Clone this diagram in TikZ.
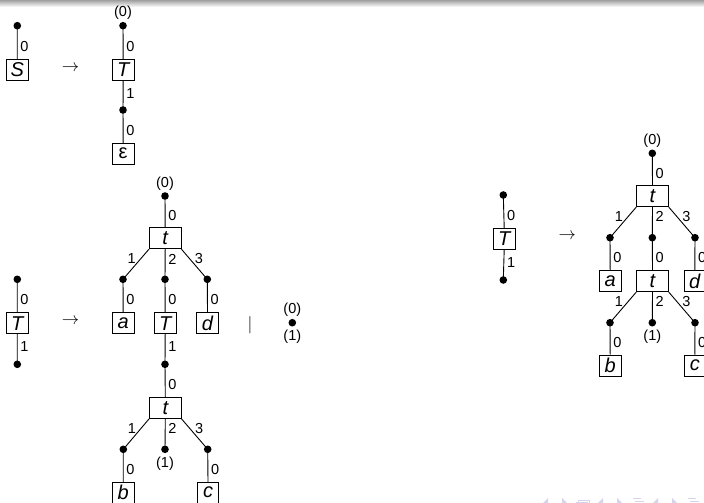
\documentclass[tikz,border=0pt]{standalone}
\usepackage{fontspec}
\setmainfont{Liberation Sans}
\definecolor{navc}{RGB}{212,212,236}
\tikzset{
 dotn/.style={circle, fill=black, inner sep=0pt, minimum size=7.6pt},
 tbox/.style={draw, line width=0.8pt, inner sep=0pt, minimum width=21.7pt, minimum height=21pt, font=\fontsize{20}{23}\selectfont\itshape},
 wbox/.style={tbox, minimum width=31.7pt},
 elab/.style={font=\fontsize{14.5}{16}\selectfont, inner sep=1pt},
 vlab/.style={elab, anchor=west, xshift=1.8pt},
 llab/.style={elab, anchor=east, xshift=-4pt},
 rlab/.style={elab, anchor=west, xshift=4.2pt},
 plab/.style={font=\fontsize{14.5}{16}\selectfont, inner sep=0pt},
 arr/.style={font=\fontsize{17}{20}\selectfont, inner sep=0pt},
 conn/.style={line width=0.9pt},
}
\begin{document}
\begin{tikzpicture}[x=1pt,y=-1pt]
\clip (0,0) rectangle (704,503);
\fill[white] (0,0) rectangle (704,503);
\shade[top color=gray!75, bottom color=white] (0,0) rectangle (704,7);

% S tree
\node[dotn] (s0) at (17.3,25.7) {};
\node[tbox] (S) at (17.2,70) {S};
\draw[conn] (s0.center) -- node[vlab,pos=.62]{0} (S.north);
\node[arr] (ar1) at (70.5,68.5) {$\rightarrow$};

% T -> epsilon
\node[dotn] (q0) at (123,25.7) {};
\node[plab] (q0l) at ([yshift=12.7pt]q0.center) {(0)};
\node[tbox] (q1) at (123.2,70) {T};
\node[dotn] (q2) at (123,110) {};
\node[tbox, font=\fontsize{20}{23}\selectfont] (q3) at (123.2,153.7) {ε};
\draw[conn] (q0.center) -- node[vlab,pos=.62]{0} (q1.north);
\draw[conn] (q1.south) -- node[vlab,pos=.42]{1} (q2.center);
\draw[conn] (q2.center) -- node[vlab,pos=.62]{0} (q3.north);

% left T
\node[dotn] (l0) at (17.3,279.3) {};
\node[tbox] (l1) at (17.2,323.3) {T};
\node[dotn] (l2) at (17.3,364.3) {};
\draw[conn] (l0.center) -- node[vlab,pos=.62]{0} (l1.north);
\draw[conn] (l1.south) -- node[vlab,pos=.42]{1} (l2.center);
\node[arr] (ar2) at (70.5,321.7) {$\rightarrow$};

% main tree
\node[dotn] (m0) at (165,196) {};
\node[plab] (m0l) at ([yshift=12.7pt]m0.center) {(0)};
\node[wbox] (mt) at (165.2,238.3) {t};
\node[dotn] (ma0) at (123,279.3) {};
\node[dotn] (mb0) at (165,279.3) {};
\node[dotn] (mc0) at (207.3,279.3) {};
\node[tbox] (ma) at (123.2,323.3) {a};
\node[tbox] (mT) at (165.2,323.3) {T};
\node[tbox] (md) at (207.5,323.3) {d};
\node[dotn] (mT1) at (165,364.3) {};
\node[wbox] (mt2) at (165.3,408) {t};
\node[dotn] (mb1) at (123.3,449.3) {};
\node[dotn] (mm1) at (165,449.3) {};
\node[plab] (mm1l) at ([yshift=-14pt]mm1.center) {(1)};
\node[dotn] (mc1) at (207.7,449.3) {};
\node[tbox] (mb) at (123.2,492.7) {b};
\node[tbox] (mc) at (208,492.7) {c};
\draw[conn] (m0.center) -- node[vlab,pos=.62]{0} (mt.north);
\draw[conn] (mt.south west) -- node[llab,pos=.3]{1} (ma0.center);
\draw[conn] (mt.south) -- node[vlab,pos=.33]{2} (mb0.center);
\draw[conn] (mt.south east) -- node[rlab,pos=.3]{3} (mc0.center);
\draw[conn] (ma0.center) -- node[vlab,pos=.62]{0} (ma.north);
\draw[conn] (mb0.center) -- node[vlab,pos=.62]{0} (mT.north);
\draw[conn] (mc0.center) -- node[vlab,pos=.62]{0} (md.north);
\draw[conn] (mT.south) -- node[vlab,pos=.42]{1} (mT1.center);
\draw[conn] (mT1.center) -- node[vlab,pos=.62]{0} (mt2.north);
\draw[conn] (mt2.south west) -- node[llab,pos=.3]{1} (mb1.center);
\draw[conn] (mt2.south) -- node[vlab,pos=.33]{2} (mm1.center);
\draw[conn] (mt2.south east) -- node[rlab,pos=.3]{3} (mc1.center);
\draw[conn] (mb1.center) -- node[vlab,pos=.62]{0} (mb.north);
\draw[conn] (mc1.center) -- node[vlab,pos=.62]{0} (mc.north);

% alternative
\node[font=\fontsize{16}{18}\selectfont, inner sep=0pt] (bar) at (250,324.7) {$|$};
\node[dotn] (e0) at (292.3,322.7) {};
\node[plab] (e0a) at ([yshift=12.7pt]e0.center) {(0)};
\node[plab] (e0b) at ([yshift=-14pt]e0.center) {(1)};

% right T
\node[dotn] (r0) at (503.3,195) {};
\node[tbox] (r1) at (504.2,238.8) {T};
\node[dotn] (r2) at (503.3,280) {};
\draw[conn] (r0.center) -- node[vlab,pos=.62]{0} (r1.north);
\draw[conn] (r1.south) -- node[vlab,pos=.42]{1} (r2.center);
\node[arr] (ar3) at (567.3,236.7) {$\rightarrow$};

% right tree
\node[dotn] (n0) at (652.3,153.3) {};
\node[plab] (n0l) at ([yshift=12.7pt]n0.center) {(0)};
\node[wbox] (nt) at (652.5,196.2) {t};
\node[dotn] (na0) at (610,237.7) {};
\node[dotn] (nb0) at (652.3,237.7) {};
\node[dotn] (nc0) at (695,237.7) {};
\node[tbox] (na) at (610.2,281.2) {a};
\node[wbox] (nt2) at (652.5,281.2) {t};
\node[tbox] (nd) at (694.8,281.2) {d};
\node[dotn] (nb1) at (610,322.7) {};
\node[dotn] (nm1) at (652.3,322.7) {};
\node[plab] (nm1l) at ([yshift=-14pt]nm1.center) {(1)};
\node[dotn] (nc1) at (695,322.7) {};
\node[tbox] (nb) at (610.2,365.5) {b};
\node[tbox] (nc) at (694.8,365.5) {c};
\draw[conn] (n0.center) -- node[vlab,pos=.62]{0} (nt.north);
\draw[conn] (nt.south west) -- node[llab,pos=.3]{1} (na0.center);
\draw[conn] (nt.south) -- node[vlab,pos=.3]{2} (nb0.center);
\draw[conn] (nt.south east) -- node[rlab,pos=.3]{3} (nc0.center);
\draw[conn] (na0.center) -- node[vlab,pos=.62]{0} (na.north);
\draw[conn] (nb0.center) -- node[vlab,pos=.62]{0} (nt2.north);
\draw[conn] (nc0.center) -- node[vlab,pos=.62]{0} (nd.north);
\draw[conn] (nt2.south west) -- node[llab,pos=.3]{1} (nb1.center);
\draw[conn] (nt2.south) -- node[vlab,pos=.3]{2} (nm1.center);
\draw[conn] (nt2.south east) -- node[rlab,pos=.3]{3} (nc1.center);
\draw[conn] (nb1.center) -- node[vlab,pos=.62]{0} (nb.north);
\draw[conn] (nc1.center) -- node[vlab,pos=.62]{0} (nc.north);

% navigation symbols (faint, cut by the lower edge)
\fill[navc] (548,498) -- (548,508) -- (543,503) -- cycle;
\fill[navc] (562,498) -- (562,508) -- (567,503) -- cycle;
\draw[navc, line width=0.8pt] (578,500) rectangle (589,506);
\draw[navc, line width=0.8pt] (576,502) rectangle (587,508);
\fill[navc] (603,498) -- (603,508) -- (598,503) -- cycle;
\fill[navc] (617,498) -- (617,508) -- (622,503) -- cycle;
\fill[navc] (633,498) rectangle (641,499.3);
\fill[navc] (635,500.8) rectangle (644,502.1);
\fill[navc] (658,498) -- (658,508) -- (653,503) -- cycle;
\fill[navc] (672,498) -- (672,508) -- (677,503) -- cycle;
\fill[navc] (688,498) rectangle (696,499.3);
\fill[navc] (690,500.8) rectangle (699,502.1);
\end{tikzpicture}
\end{document}
